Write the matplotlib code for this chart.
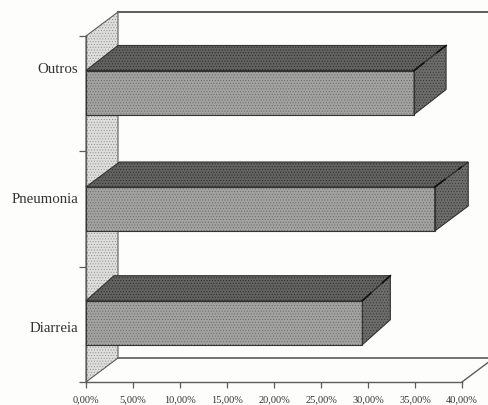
import matplotlib
matplotlib.use("Agg")
import matplotlib.pyplot as plt
from matplotlib.patches import Polygon

categories = ["Diarreia", "Pneumonia", "Outros"]
values = [29.4, 37.1, 34.9]
x_ticks = [0, 5, 10, 15, 20, 25, 30, 35, 40]
x_labels = ["0,00%", "5,00%", "10,00%", "15,00%", "20,00%", "25,00%", "30,00%", "35,00%", "40,00%"]

plt.rcParams["font.family"] = ["Liberation Serif", "DejaVu Serif"]
plt.rcParams["hatch.linewidth"] = 0.4

W, H = 488, 406
PX_X = 376 / 40    # pixels per percent
PX_Y = 346 / 3     # pixels per category
INK = "#333333"
LINE = "#5c5c5c"
DOTS = "......"

fig = plt.figure(figsize=(W / 100, H / 100), dpi=100, facecolor="#fdfdfb")
ax = fig.add_axes([86 / W, (H - 383) / H, 376 / W, 346 / H])
ax.patch.set_visible(False)
ax.set_xlim(0, 40)
ax.set_ylim(0, 3)

# depth of the walls and of the bars, in data units
wall_dx, wall_dy = 32 / PX_X, 24 / PX_Y
bar_dx = [28 / PX_X, 33.5 / PX_X, 32 / PX_X]
bar_dy = 25 / PX_Y
bar_h = 44 / PX_Y


def face(points, color, hatch_color, z, edge=INK):
    ax.add_patch(Polygon(points, closed=True, facecolor=color, edgecolor=hatch_color, hatch=DOTS,
                         linewidth=0, clip_on=False, zorder=z))
    ax.add_patch(Polygon(points, closed=True, fill=False, edgecolor=edge, linewidth=0.8,
                         clip_on=False, zorder=z + 0.1))


# side wall
face([(0, 0), (wall_dx, wall_dy), (wall_dx, 3 + wall_dy), (0, 3)], "#dededc", "#8e8e8c", 1, edge=LINE)

# back wall and floor lines
ax.plot([wall_dx, 43], [3 + wall_dy, 3 + wall_dy], color=LINE, lw=1.4, clip_on=False, zorder=1)
ax.plot([wall_dx, 43], [wall_dy, wall_dy], color=LINE, lw=1.2, clip_on=False, zorder=1)
ax.plot([40, 40 + wall_dx], [0, wall_dy], color=LINE, lw=1.0, clip_on=False, zorder=1)

# bars
bar_y = [(383 - 323.7) / PX_Y, (383 - 210) / PX_Y, (383 - 93.5) / PX_Y]
bars = ax.barh(bar_y, values, height=bar_h, color="#a2a2a0", edgecolor="#6a6a68", hatch=DOTS,
               linewidth=0, zorder=3)
for b, v, dx in zip(bars, values, bar_dx):
    y0 = b.get_y()
    y1 = y0 + bar_h
    ax.add_patch(Polygon([(0, y0), (v, y0), (v, y1), (0, y1)], closed=True, fill=False, edgecolor=INK,
                         linewidth=0.8, zorder=3.2))
    face([(0, y1), (v, y1), (v + dx, y1 + bar_dy), (dx, y1 + bar_dy)], "#626260", "#2c2c2c", 3)
    face([(v, y0), (v, y1), (v + dx, y1 + bar_dy), (v + dx, y0 + bar_dy)], "#6c6c6a", "#363636", 3)
    # the edge between top and side only shows at both ends
    ax.plot([v, v + dx * 0.3], [y1, y1 + bar_dy * 0.3], color="#111111", lw=1.2, zorder=4)
    ax.plot([v + dx * 0.72, v + dx], [y1 + bar_dy * 0.72, y1 + bar_dy], color="#111111", lw=1.2, zorder=4)

# axes
for s in ["top", "right"]:
    ax.spines[s].set_visible(False)
for s in ["left", "bottom"]:
    ax.spines[s].set_color(LINE)
    ax.spines[s].set_linewidth(1.0)
    ax.spines[s].set_zorder(2)

ax.set_xticks(x_ticks)
ax.set_xticklabels(x_labels, fontsize=7.5, color=INK)
ax.tick_params(axis="x", length=4, width=0.9, color=LINE, pad=5)

ax.set_yticks([0, 1, 2, 3])
ax.set_yticklabels([])
ax.tick_params(axis="y", which="major", length=5, width=0.9, color=LINE)

# the scanned labels sit off the bar centres
ax.set_yticks([(383 - 327) / PX_Y, (383 - 198) / PX_Y, (383 - 68) / PX_Y], minor=True)
ax.set_yticklabels(categories, minor=True, fontsize=10.7, color=INK)
ax.tick_params(axis="y", which="minor", length=0, pad=5.5)

fig.savefig("out.png", dpi=100, facecolor=fig.get_facecolor())
